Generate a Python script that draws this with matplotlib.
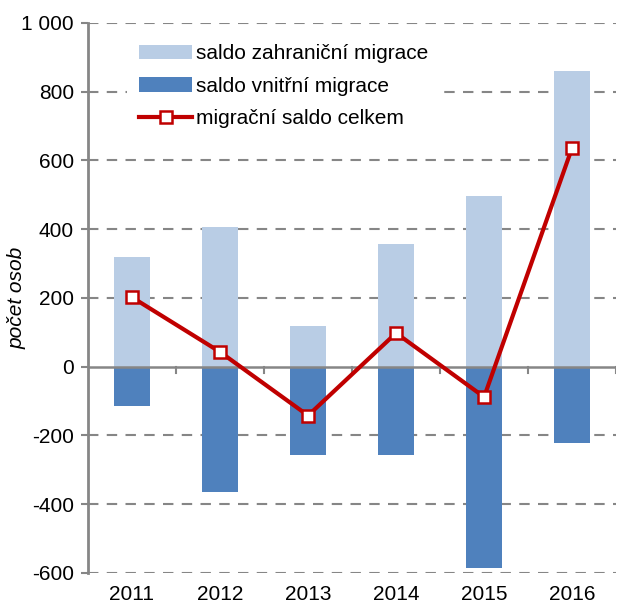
import numpy as np
import matplotlib.pyplot as plt
import matplotlib.ticker as mticker

plt.rcParams['font.family'] = ['Liberation Sans', 'DejaVu Sans']

years = ['2011', '2012', '2013', '2014', '2015', '2016']
zahranicni = [320, 407, 119, 358, 497, 861]
vnitrni = [-113, -364, -256, -256, -585, -221]
celkem = [202, 43, -142, 98, -88, 637]

x = np.arange(len(years))

fig = plt.figure(figsize=(6.17, 6.08), dpi=100)
ax = fig.add_axes([0.1426, 0.0576, 0.856, 0.9046])

b1 = ax.bar(x, zahranicni, width=0.41, color='#B9CDE5', label='saldo zahraniční migrace', zorder=2)
b2 = ax.bar(x, vnitrni, width=0.41, color='#4F81BD', label='saldo vnitřní migrace', zorder=2)
l1, = ax.plot(x, celkem, color='#C00000', lw=3, marker='s', markersize=9,
              markerfacecolor='white', markeredgecolor='#C00000', markeredgewidth=1.8,
              label='migrační saldo celkem', zorder=4)

ax.set_xlim(-0.5, 5.5)
ax.set_ylim(-600, 1000)
ax.set_yticks(range(-600, 1001, 200))
ax.yaxis.set_major_formatter(mticker.FuncFormatter(lambda v, p: f'{int(v):,}'.replace(',', ' ')))

for v in range(-600, 1001, 200):
    if v != 0:
        ax.axhline(v, color='#868686', lw=1.5, ls=(0, (5, 4)), zorder=1)
ax.axhline(0, color='#868686', lw=1.8, zorder=3)

# small category-boundary ticks on the zero line
for b in np.arange(0.5, 6, 1.0):
    ax.plot([b, b], [0, -18], color='#868686', lw=1.5, zorder=3)

for s in ['top', 'right', 'bottom']:
    ax.spines[s].set_visible(False)
ax.spines['left'].set_color('#868686')
ax.spines['left'].set_linewidth(2)

ax.set_xticks(x)
ax.set_xticklabels(years)
ax.tick_params(axis='x', length=0, labelsize=15, pad=9)
ax.tick_params(axis='y', length=5, width=1.5, color='#868686', labelsize=15, pad=5)

ax.set_ylabel('počet osob', fontstyle='italic', fontsize=15)
ax.yaxis.set_label_coords(-0.117, 0.5)

leg = ax.legend([b1, b2, l1], [b1.get_label(), b2.get_label(), l1.get_label()],
                loc='upper left', bbox_to_anchor=(0.073, 0.984), frameon=True, fontsize=15,
                borderpad=0.6, borderaxespad=0, fancybox=False, framealpha=1,
                facecolor='white', edgecolor='none',
                handlelength=2.55, handleheight=0.7, labelspacing=0.65, handletextpad=0.2)
leg.set_zorder(5)

fig.savefig('out.png', dpi=100)
